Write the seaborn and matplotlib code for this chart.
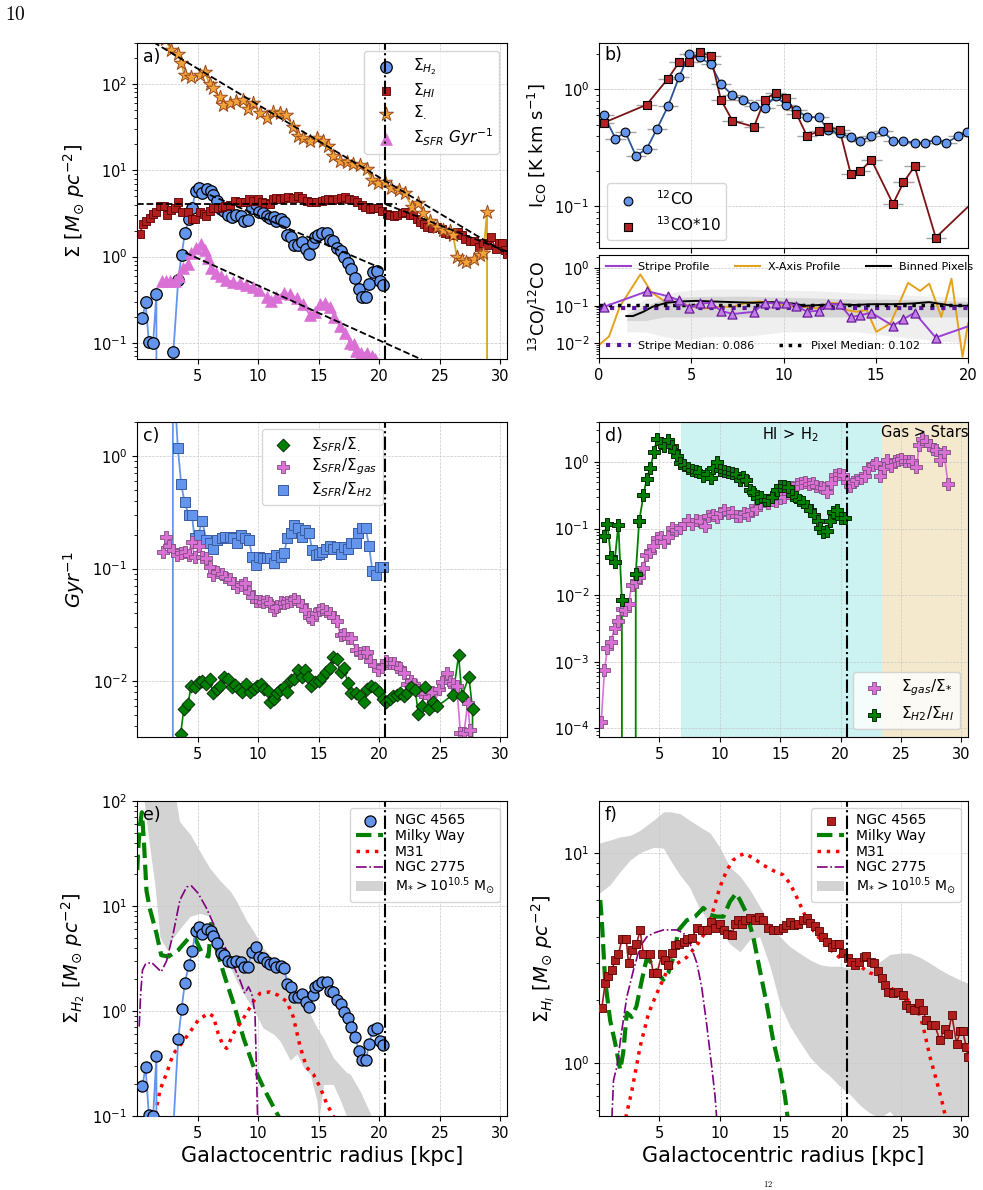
import matplotlib
matplotlib.use('Agg')
import seaborn as sns
import matplotlib.pyplot as plt
from matplotlib.lines import Line2D

plt.rcParams['xtick.labelsize'] = 10.5
plt.rcParams['ytick.labelsize'] = 10.5

# ---------------- values ----------------
r_trunc = 20.5

# molecular gas surface density (panels a, e)
r_h2 = [0.45, 0.7, 0.98, 1.33, 1.6, 1.85, 3.0, 3.4, 3.68, 3.95, 4.28, 4.56, 4.84, 5.1, 5.4, 5.75, 6.08, 6.3, 6.63, 6.9,
        7.2, 7.54, 7.87, 8.2, 8.55, 8.86, 9.13, 9.5, 9.8, 10.07, 10.4, 10.7, 11.0, 11.3, 11.5, 11.9, 12.17, 12.4, 12.7, 12.97,
        13.27, 13.6, 13.93, 14.2, 14.5, 14.7, 14.98, 15.3, 15.67, 15.94, 16.2, 16.55, 16.85, 17.13, 17.4, 17.68, 18.03, 18.3,
        18.56, 18.9, 19.14, 19.47, 19.8, 20.08, 20.35]
sig_h2 = [0.193, 0.295, 0.102, 0.1, 0.37, 0, 0.078, 0.54, 1.05, 1.86, 2.75, 3.7, 5.8, 6.3, 5.4, 6.1, 5.8, 5.2, 4.4, 3.55,
          3.4, 3.0, 2.9, 3.0, 2.95, 2.6, 2.65, 3.65, 4.1, 3.3, 3.2, 2.95, 2.8, 2.85, 2.6, 2.7, 2.55, 1.8, 1.68, 1.35,
          1.37, 1.46, 1.23, 1.08, 1.42, 1.7, 1.78, 1.87, 1.87, 1.56, 1.53, 1.26, 1.16, 0.98, 0.85, 0.71, 0.56, 0.42,
          0.34, 0.34, 0.48, 0.66, 0.69, 0.52, 0.47]

# atomic gas surface density (panels a, f)
r_hi = [0.23, 0.5, 0.78, 1.06, 1.33, 1.6, 1.9, 2.25, 2.44, 2.77, 3.1, 3.4, 3.68, 4.2, 4.5, 4.8, 5.2, 5.5, 5.7, 6.0,
        6.3, 6.65, 7.0, 7.26, 7.67, 8.1, 8.5, 8.9, 9.24, 9.6, 10.0, 10.35, 10.6, 11.0, 11.25, 11.5, 11.8, 12.1, 12.5, 12.9,
        13.27, 13.6, 14.0, 14.4, 14.8, 15.25, 15.5, 15.8, 16.1, 16.5, 16.85, 17.2, 17.5, 17.9, 18.2, 18.56, 18.84, 19.25,
        19.5, 19.9, 20.2, 20.6, 20.9, 21.2, 21.5, 21.9, 22.1, 22.55, 22.8, 23.1, 23.4, 23.66, 23.94, 24.35, 24.76, 25.2,
        25.45, 25.73, 26.1, 26.5, 26.8, 27.1, 27.5, 27.8, 28.2, 28.6, 28.9, 29.2, 29.6, 29.9, 30.1, 30.4, 30.55]
sig_hi = [1.83, 2.4, 2.6, 2.78, 3.1, 3.3, 3.9, 3.9, 3.0, 3.45, 3.7, 4.3, 3.3, 3.3, 2.7, 2.7, 3.3, 3.1, 2.95, 3.35,
          3.65, 3.7, 3.8, 3.9, 3.95, 4.4, 4.3, 4.3, 4.7, 4.4, 4.6, 4.3, 4.15, 4.1, 4.6, 4.8, 4.6, 4.8, 4.95, 4.8,
          5.0, 4.8, 4.4, 4.3, 4.3, 4.4, 4.55, 4.7, 4.55, 4.6, 4.8, 4.9, 4.65, 4.5, 4.25, 4.0, 3.8, 3.6,
          3.7, 3.7, 3.35, 3.16, 3.05, 2.95, 3.05, 3.2, 3.25, 3.05, 3.0, 2.74, 2.54, 2.36, 2.19, 2.16, 2.19, 2.11,
          1.9, 1.83, 1.79, 1.93, 1.79, 1.6, 1.52, 1.52, 1.29, 1.45, 1.38, 1.7, 1.24, 1.42, 1.42, 1.2, 1.07]

# stellar surface density
r_star = [2.35, 2.82, 3.37, 3.65, 3.92, 4.48, 5.17, 5.58, 6.0, 6.27, 6.82, 7.1, 7.65, 8.2, 8.75, 9.17, 9.58, 10.13, 10.7,
          11.24, 11.8, 12.34, 12.9, 13.3, 13.7, 14.27, 14.82, 15.37, 15.8, 16.2, 16.76, 17.3, 17.86, 18.4, 18.96, 19.4,
          19.9, 20.5, 21.0, 21.6, 22.1, 22.7, 23.2, 23.65, 24.2, 24.75, 25.3, 25.85, 26.1, 26.4, 26.8, 27.2, 27.8, 28.3,
          28.6, 28.9, 28.95]
sig_star = [330, 247, 226, 174, 126, 122, 126, 139, 100, 89, 71, 57, 60, 63, 65, 52, 60, 46, 40,
            48, 46, 44, 32, 25, 23.5, 22, 23.5, 22, 19, 14.5, 13, 12.6, 12, 11.6, 10.5, 7.7,
            7.1, 7.4, 6.2, 5.9, 5.4, 3.8, 4.2, 3.2, 2.6, 2.2, 2.05, 1.96, 1.78, 1.0, 0.91, 0.87, 0.95, 1.05,
            1.1, 3.3, 0]

# star formation rate surface density
r_sfr = [2.05, 2.4, 2.74, 3.1, 3.43, 3.8, 4.2, 4.48, 4.9, 5.3, 5.6, 5.86, 6.13, 6.55, 6.96, 7.37, 7.9, 8.5, 9.0, 9.6,
         10.1, 10.7, 11.1, 11.5, 12.1, 12.6, 13.2, 13.7, 14.27, 14.7, 15.1, 15.5, 15.9, 16.3, 16.75, 17.2, 17.6, 17.9,
         18.1, 18.5, 19.0, 19.4, 19.65]
sig_sfr = [0.52, 0.52, 0.52, 0.52, 0.6, 0.74, 0.83, 1.1, 1.25, 1.4, 1.2, 0.96, 0.73, 0.64, 0.6, 0.54, 0.51, 0.49, 0.47, 0.45,
           0.41, 0.34, 0.31, 0.34, 0.38, 0.37, 0.33, 0.28, 0.21, 0.23, 0.28, 0.29, 0.26, 0.2, 0.155, 0.13, 0.1, 0.096,
           0.08, 0.077, 0.077, 0.07, 0.065]

# exponential fits (end points of the dashed lines)
fit_star_r, fit_star_v = [0.0, 30.6], [398, 1.07]
fit_hi_r, fit_hi_v = [0.0, 21.5], [4.07, 4.07]
fit_hi_out_r, fit_hi_out_v = [20.5, 30.6], [4.07, 1.14]
fit_h2_r, fit_h2_v = [6.0, 20.5], [5.2, 0.70]
fit_sfr_r, fit_sfr_v = [4.0, 30.6], [1.11, 0.0227]

# panel b: CO intensities
r_12co = [0.27, 0.89, 1.43, 2.0, 2.58, 3.14, 3.74, 4.34, 4.88, 5.47, 6.05, 6.6, 7.23, 7.82, 8.4, 8.98, 9.57, 10.15, 10.7,
          11.27, 11.92, 12.4, 13.04, 13.64, 14.16, 14.76, 15.4, 15.93, 16.5, 17.1, 17.65, 18.25, 18.83, 19.46, 19.96]
i_12co = [0.6, 0.38, 0.43, 0.27, 0.31, 0.46, 0.72, 1.28, 2.0, 1.88, 1.64, 1.12, 0.89, 0.82, 0.72, 0.7, 0.88, 0.73, 0.67,
          0.58, 0.58, 0.45, 0.42, 0.39, 0.36, 0.4, 0.44, 0.36, 0.36, 0.35, 0.35, 0.37, 0.35, 0.4, 0.43]
r_13co = [0.27, 2.58, 3.74, 4.34, 4.88, 5.47, 6.05, 6.6, 7.23, 8.4, 8.98, 9.57, 10.15, 10.7, 11.27, 11.92, 12.4, 13.04,
          13.64, 14.16, 14.76, 15.93, 16.5, 17.1, 18.25, 20.55]
i_13co = [0.52, 0.74, 1.24, 1.71, 1.71, 2.09, 1.93, 0.82, 0.54, 0.48, 0.82, 0.94, 0.85, 0.62, 0.4, 0.44, 0.48, 0.45,
          0.19, 0.2, 0.25, 0.105, 0.16, 0.22, 0.054, 0.12]
co_xerr = 0.55
co12_yerr_frac = 0.05
co13_yerr_frac = 0.08

# panel b (lower): line ratio
r_stripe = [0.27, 2.62, 3.74, 4.34, 4.9, 5.46, 6.05, 6.6, 7.23, 8.4, 8.98, 9.57, 10.15, 10.7, 11.27, 11.92, 12.4, 13.04,
            13.64, 14.16, 14.76, 15.93, 16.5, 17.1, 18.25, 20.55]
ratio_stripe = [0.094, 0.245, 0.18, 0.14, 0.088, 0.115, 0.12, 0.074, 0.06, 0.069, 0.12, 0.115, 0.12, 0.1, 0.069, 0.074,
                0.11, 0.11, 0.049, 0.056, 0.065, 0.029, 0.044, 0.065, 0.014, 0.035]
r_xaxis = [0, 0.54, 1.12, 2.24, 2.84, 3.47, 4.0, 4.9, 5.8, 6.5, 7.26, 8.0, 8.7, 9.43, 10.15, 11.05, 11.78, 12.5, 13.04,
           13.4, 13.95, 14.5, 15.03, 15.8, 16.75, 17.4, 17.9, 18.55, 19.1, 19.7, 20.0]
ratio_xaxis = [0.0089, 0.015, 0.094, 0.69, 0.23, 0.14, 0.13, 0.1, 0.085, 0.094, 0.094, 0.12, 0.13, 0.115, 0.1, 0.094,
               0.085, 0.12, 0.115, 0.077, 0.069, 0.077, 0.02, 0.034, 0.41, 0.25, 0.39, 0.05, 0.53, 0.0043, 0.034]
r_binned = [1.48, 1.84, 2.4, 2.9, 3.65, 4.37, 5.28, 6.18, 7.26, 8.35, 9.43, 10.5, 11.2, 12.0, 13.0, 13.8, 14.85, 15.9,
            17.0, 17.9, 18.6, 19.2, 20.0]
ratio_binned = [0.053, 0.053, 0.069, 0.094, 0.12, 0.13, 0.135, 0.13, 0.125, 0.12, 0.125, 0.115, 0.1, 0.105, 0.11, 0.105,
                0.11, 0.11, 0.115, 0.125, 0.11, 0.1, 0.1]
r_cloud = [1.5, 2.5, 3.5, 4.5, 6, 8, 10, 12, 14, 16, 18, 20]
cloud_out_lo = [0.02, 0.02, 0.015, 0.012, 0.015, 0.015, 0.02, 0.02, 0.02, 0.015, 0.012, 0.01]
cloud_out_hi = [0.08, 0.15, 0.2, 0.25, 0.28, 0.28, 0.26, 0.25, 0.22, 0.2, 0.18, 0.17]
cloud_in_lo = [0.04, 0.04, 0.05, 0.05, 0.05, 0.05, 0.05, 0.05, 0.05, 0.05, 0.05, 0.05]
cloud_in_hi = [0.06, 0.1, 0.15, 0.17, 0.18, 0.18, 0.17, 0.16, 0.15, 0.15, 0.14, 0.13]
stripe_median = 0.086
pixel_median = 0.102

# panel c: depletion rates
c_r_h2 = [2.7, 2.96, 3.37, 3.65, 3.92, 4.25, 4.53, 4.75, 5.08, 5.36, 5.72, 6.0, 6.3, 6.6, 7.0, 7.3, 7.65, 7.9, 8.25, 8.6,
          8.95, 9.25, 9.5, 9.8, 10.07, 10.4, 10.7, 10.96, 11.3, 11.5, 11.87, 12.15, 12.4, 12.7, 13.0, 13.3, 13.58, 13.9,
          14.2, 14.47, 14.74, 15.0, 15.3, 15.57, 15.93, 16.2, 16.48, 16.8, 17.1, 17.4, 17.7, 18.05, 18.27, 18.55, 18.88,
          19.15, 19.43, 19.73, 20.07, 20.34]
c_sfr_h2 = [0, 6.7, 1.17, 0.56, 0.39, 0.3, 0.3, 0.185, 0.2, 0.266, 0.18, 0.17, 0.15, 0.18, 0.185, 0.19, 0.19, 0.185, 0.168,
            0.2, 0.185, 0.18, 0.127, 0.107, 0.127, 0.123, 0.123, 0.123, 0.111, 0.132, 0.127, 0.138, 0.185, 0.205, 0.244,
            0.228, 0.19, 0.22, 0.205, 0.146, 0.132, 0.134, 0.14, 0.15, 0.158, 0.15, 0.155, 0.134, 0.155, 0.15, 0.168,
            0.17, 0.205, 0.228, 0.228, 0.16, 0.096, 0.0875, 0.103, 0.103]
c_r_gas = [2.13, 2.4, 2.68, 2.96, 3.3, 3.65, 3.92, 4.25, 4.5, 4.75, 5.1, 5.36, 5.72, 6.0, 6.3, 6.6, 7.0, 7.3, 7.65, 7.9,
           8.25, 8.6, 8.95, 9.25, 9.5, 9.8, 10.13, 10.4, 10.7, 10.96, 11.3, 11.5, 11.87, 12.15, 12.4, 12.7, 13.0, 13.3,
           13.58, 13.9, 14.2, 14.47, 14.74, 15.0, 15.3, 15.57, 15.93, 16.2, 16.48, 16.8, 17.1, 17.4, 17.7, 18.05, 18.4,
           18.7, 18.96, 19.24, 19.6, 19.93, 20.2, 20.56, 20.9, 21.2, 21.45, 21.7, 22.05, 22.33, 22.6, 22.9, 23.16, 23.43,
           23.74, 24.07, 24.34, 24.57, 24.9, 25.2, 25.6, 25.86, 26.1, 26.4, 26.7, 27.0, 27.3, 27.5, 27.7]
c_sfr_gas = [0.141, 0.19, 0.16, 0.146, 0.132, 0.137, 0.141, 0.132, 0.173, 0.127, 0.157, 0.127, 0.123, 0.104, 0.0875,
             0.094, 0.09, 0.085, 0.08, 0.074, 0.069, 0.071, 0.074, 0.062, 0.056, 0.052, 0.051, 0.05, 0.051, 0.049,
             0.043, 0.046, 0.05, 0.049, 0.05, 0.052, 0.054, 0.051, 0.047, 0.043, 0.037, 0.036, 0.04, 0.043, 0.044,
             0.042, 0.04, 0.037, 0.034, 0.0257, 0.026, 0.024, 0.024, 0.019, 0.0177, 0.018, 0.018, 0.015, 0.0139,
             0.0125, 0.0134, 0.015, 0.0144, 0.0144, 0.0134, 0.013, 0.0118, 0.0095, 0.01, 0.0095, 0.0083, 0.008,
             0.0078, 0.0072, 0.008, 0.0061, 0.0086, 0.0099, 0.0118, 0.0099, 0.0095, 0.009, 0.0035, 0.0035, 0.0064,
             0.0037, 0]
c_r_star = [3.6, 3.87, 4.2, 4.48, 4.75, 5.08, 5.36, 5.72, 6.0, 6.27, 6.6, 6.88, 7.15, 7.5, 7.85, 8.1, 8.4, 8.67, 9.03,
            9.3, 9.63, 9.9, 10.2, 10.46, 10.8, 11.0, 11.3, 11.57, 11.84, 12.12, 12.4, 12.75, 13.0, 13.3, 13.58, 13.86,
            14.13, 14.4, 14.7, 15.0, 15.3, 15.57, 15.93, 16.2, 16.48, 16.8, 17.1, 17.4, 17.7, 18.05, 18.4, 18.7, 18.96,
            19.3, 19.65, 20.0, 20.3, 20.56, 20.9, 21.17, 21.45, 21.7, 22.05, 22.33, 22.6, 22.96, 23.24, 23.5, 23.8,
            24.12, 24.4, 24.8, 26.1, 26.55, 26.83, 27.4, 27.7, 27.85]
c_sfr_star = [0.0034, 0.0057, 0.0063, 0.0091, 0.0088, 0.0098, 0.0101, 0.0095, 0.0104, 0.0078, 0.0086, 0.0091, 0.0108,
              0.0104, 0.0089, 0.0092, 0.0086, 0.008, 0.0095, 0.008, 0.0086, 0.009, 0.0095, 0.0086, 0.0082, 0.0066,
              0.007, 0.0078, 0.0083, 0.0089, 0.008, 0.0102, 0.0104, 0.0125, 0.0108, 0.0125, 0.011, 0.009, 0.0098,
              0.0101, 0.0108, 0.012, 0.013, 0.0163, 0.0157, 0.012, 0.013, 0.0097, 0.0079, 0.0078, 0.0074, 0.0066,
              0.0086, 0.009, 0.0087, 0.0081, 0.0069, 0.0066, 0.0069, 0.0074, 0.0076, 0.0078, 0.0074, 0.0078, 0.0089,
              0.0084, 0.0051, 0.006, 0.0089, 0.0057, 0.0066, 0.006, 0.0076, 0.017, 0.0074, 0.011, 0.0057, 0]

# panel d: ratios
d_r_gas = [0.18, 0.45, 0.7, 0.97, 1.28, 1.6, 1.89, 2.16, 2.44, 2.71, 3.04, 3.32, 3.62, 3.9, 4.23, 4.5, 4.83, 5.1, 5.38,
           5.69, 6.02, 6.38, 6.71, 7.04, 7.4, 7.67, 8.0, 8.36, 8.78, 9.05, 9.4, 9.74, 10.0, 10.35, 10.7, 11.0, 11.3,
           11.7, 12.0, 12.35, 12.6, 13.0, 13.3, 13.7, 14.0, 14.35, 14.65, 15.0, 15.3, 15.67, 16.0, 16.36, 16.7, 17.05,
           17.4, 17.73, 18.0, 18.34, 18.64, 18.9, 19.2, 19.5, 19.88, 20.16, 20.5, 20.76, 21.04, 21.3, 21.65, 22.0,
           22.28, 22.64, 22.97, 23.3, 23.58, 23.85, 24.13, 24.48, 24.76, 25.0, 25.37, 25.67, 25.95, 26.28, 26.5,
           26.77, 27.1, 27.38, 27.65, 27.93, 28.2, 28.54, 28.9]
d_gas_star = [1.23e-4, 7.4e-4, 1.6e-3, 1.95e-3, 3.2e-3, 4.1e-3, 6.3e-3, 6.0e-3, 7.4e-3, 0.0143, 0.0155, 0.0187, 0.0255,
              0.04, 0.045, 0.054, 0.072, 0.074, 0.062, 0.076, 0.102, 0.096, 0.102, 0.118, 0.136, 0.118, 0.136, 0.128,
              0.11, 0.152, 0.16, 0.149, 0.171, 0.19, 0.171, 0.18, 0.156, 0.156, 0.171, 0.16, 0.19, 0.2, 0.24, 0.256,
              0.24, 0.27, 0.256, 0.29, 0.3, 0.34, 0.42, 0.46, 0.48, 0.51, 0.46, 0.49, 0.44, 0.42, 0.41, 0.36, 0.49,
              0.64, 0.67, 0.64, 0.51, 0.43, 0.51, 0.54, 0.57, 0.61, 0.81, 0.91, 0.97, 0.62, 0.81, 1.06, 0.86, 1.02,
              1.08, 1.1, 1.02, 1.02, 1.02, 0.83, 1.78, 2.2, 2.1, 1.82, 1.57, 1.53, 1.06, 1.4, 0.47]
d_r_mol = [0.37, 0.7, 0.97, 1.28, 1.6, 1.89, 2.3, 3.04, 3.32, 3.68, 3.95, 4.23, 4.56, 4.78, 5.1, 5.38, 5.69, 6.02, 6.2,
           6.43, 6.71, 7.04, 7.34, 7.67, 8.0, 8.28, 8.64, 8.97, 9.25, 9.47, 9.8, 10.0, 10.37, 10.7, 11.04, 11.34, 11.67,
           11.95, 12.2, 12.5, 12.77, 13.05, 13.38, 13.7, 14.0, 14.35, 14.7, 15.0, 15.34, 15.67, 15.95, 16.27, 16.58,
           16.9, 17.24, 17.5, 17.8, 18.1, 18.3, 18.56, 18.84, 19.1, 19.4, 19.7, 20.0, 20.35]
d_h2_hi = [0.078, 0.118, 0.038, 0.031, 0.114, 0.0085, 0, 0.021, 0.128, 0.32, 0.56, 0.81, 1.41, 2.2, 1.93, 1.76, 2.17,
           1.72, 1.45, 1.22, 0.97, 0.91, 0.81, 0.77, 0.74, 0.7, 0.61, 0.65, 0.57, 0.81, 0.99, 0.77, 0.74, 0.72, 0.68,
           0.65, 0.54, 0.6, 0.54, 0.38, 0.36, 0.29, 0.3, 0.27, 0.27, 0.3, 0.38, 0.43, 0.44, 0.42, 0.32, 0.3, 0.27,
           0.25, 0.22, 0.19, 0.16, 0.128, 0.102, 0.09, 0.093, 0.128, 0.18, 0.19, 0.144, 0.144]
hi_dominates_from = 6.8
gas_dominates_from = 23.45

# panel e: comparison galaxies (H2)
mw_r_h2 = [0.02, 0.1, 0.25, 0.4, 0.55, 0.78, 1.05, 1.6, 2.0, 2.6, 3.4, 4.3, 4.8, 5.4, 5.9, 6.15, 6.5, 7.2, 8.0, 8.8,
           9.6, 10.5, 11.3, 12.0]
mw_h2 = [22, 35, 60, 78, 45, 14, 9.5, 5.5, 3.4, 3.3, 3.8, 5.0, 4.9, 3.5, 3.3, 7.3, 4.1, 2.2, 1.15, 0.55,
         0.3, 0.18, 0.12, 0.085]
m31_r_h2 = [1.2, 1.47, 1.9, 2.44, 2.99, 3.68, 4.37, 5.05, 5.88, 6.3, 6.7, 7.1, 7.4, 7.95, 8.5, 9.05, 9.6, 10.15, 10.98,
            11.67, 12.36, 12.9, 13.46, 14.0, 14.56, 15.1, 15.67, 16.2, 16.6]
m31_h2 = [0.07, 0.1, 0.177, 0.255, 0.39, 0.49, 0.63, 0.82, 0.95, 0.89, 0.61, 0.47, 0.44, 0.61, 0.76, 0.95, 1.23, 1.47,
          1.52, 1.41, 1.23, 0.88, 0.46, 0.29, 0.25, 0.19, 0.13, 0.1, 0.07]
n2775_r_h2 = [0.18, 0.3, 0.45, 0.7, 1.2, 2.0, 2.44, 2.99, 3.54, 4.1, 4.5, 5.05, 5.74, 6.3, 6.85, 7.4, 7.95, 8.5, 8.9,
              9.2, 9.47, 9.74, 9.88, 9.96]
n2775_h2 = [0.71, 1.47, 2.45, 2.8, 2.9, 2.36, 3.0, 5.5, 11.4, 15.2, 15.5, 13.2, 9.5, 6.8, 4.9, 3.8, 2.73, 1.96, 1.47,
            1.7, 1.47, 0.95, 0.22, 0.09]
band_e_r = [0.4, 1.0, 1.5, 1.9, 2.5, 3.0, 3.5, 4.4, 5.2, 6.0, 6.85, 7.7, 8.2, 9.06, 9.6, 10.4, 11.3, 11.8, 12.65, 13.2,
            13.75, 14.3, 14.85, 15.0, 15.4, 16.2, 16.8, 17.3, 17.6, 18.45, 19.27, 19.6]
band_e_hi = [150, 150, 150, 150, 150, 150, 64, 48, 33, 23, 17.5, 13.8, 11.2, 7.2, 5.8, 4.0, 3.1, 2.7, 1.96, 1.6,
             1.2, 0.93, 0.7, 0.65, 0.55, 0.36, 0.3, 0.26, 0.25, 0.17, 0.105, 0.08]
band_e_lo = [150, 40, 15, 5, 3.8, 5, 6, 8, 8.5, 8, 4.5, 2.6, 1.95, 1.3, 1.05, 0.69, 0.6, 0.52, 0.34, 0.39,
             0.29, 0.25, 0.14, 0.09, 0.2, 0.2, 0.14, 0.1, 0.08, 0.08, 0.08, 0.08]

# panel f: comparison galaxies (HI)
mw_r_hi = [0.1, 0.23, 0.5, 0.92, 1.33, 1.75, 2.0, 2.3, 2.7, 3.1, 3.55, 3.95, 4.37, 4.78, 5.33, 5.74, 6.16, 6.57, 7.26,
           7.95, 8.64, 9.2, 9.74, 10.3, 10.84, 11.34, 11.67, 12.2, 12.77, 13.3, 13.87, 14.4, 14.98, 15.4, 15.8]
mw_hi = [6.0, 4.8, 2.5, 1.6, 1.25, 0.93, 1.12, 1.74, 1.66, 1.87, 2.5, 3.16, 3.0, 2.7, 2.5, 2.7, 3.2, 4.3, 4.8,
         5.0, 5.5, 5.1, 5.0, 5.0, 5.9, 6.45, 6.0, 5.2, 4.0, 2.8, 1.93, 1.3, 0.93, 0.69, 0.45]
m31_r_hi = [2.0, 2.24, 2.7, 3.4, 4.1, 4.78, 5.6, 6.43, 7.26, 8.1, 8.9, 9.47, 10.0, 10.57, 11.1, 11.67, 12.08, 12.77,
            13.6, 14.4, 15.25, 15.8, 16.36, 16.9, 17.46, 18.3, 19.1, 19.9, 20.77, 21.6, 22.4, 23.25, 24.07, 24.9, 25.73,
            26.4, 26.83, 27.4, 27.93, 28.5, 29.0]
m31_hi = [0.45, 0.56, 0.73, 1.2, 1.73, 2.15, 2.73, 2.98, 3.2, 3.65, 4.3, 5.4, 6.9, 8.3, 9.3, 9.8, 10.0, 9.5,
          8.8, 8.3, 7.9, 7.2, 6.2, 5.3, 4.5, 3.9, 3.5, 3.2, 3.05, 2.9, 2.7, 2.6, 2.3, 2.15, 1.97,
          1.79, 1.5, 1.07, 0.83, 0.62, 0.45]
n2775_r_hi = [1.0, 1.2, 1.47, 1.89, 2.3, 2.85, 3.4, 3.95, 4.5, 5.33, 6.43, 7.0, 7.53, 8.1, 8.5, 8.9, 9.33, 9.6, 9.85]
n2775_hi = [0.45, 0.83, 0.96, 1.44, 2.07, 2.78, 3.6, 4.0, 4.17, 4.32, 4.32, 4.17, 3.72, 3.0, 2.3, 1.55, 0.96, 0.7, 0.45]
band_f_r = [0, 0.92, 1.75, 2.57, 3.4, 4.5, 5.33, 5.9, 6.7, 7.5, 8.36, 9.2, 10.0, 10.84, 11.67, 12.5, 13.3, 14.15, 15.0,
            15.8, 16.6, 17.5, 18.3, 19.1, 19.9, 20.77, 21.6, 22.4, 23.25, 24.07, 24.9, 25.7, 26.55, 27.4, 28.2, 29.0,
            29.86, 30.6]
band_f_hi = [11.2, 11.6, 12.0, 12.2, 12.9, 14.4, 15.8, 15.8, 15.5, 14.4, 13.4, 12.5, 10.7, 8.6, 7.8, 6.7, 5.6, 4.6, 4.0,
             3.6, 3.35, 3.1, 2.95, 2.9, 2.9, 2.85, 2.85, 2.85, 3.05, 3.3, 3.35, 3.35, 3.2, 3.0, 2.8, 2.64, 2.5, 2.4]
band_f_lo = [6.45, 7.1, 8.2, 9.3, 10.1, 10.7, 10.6, 9.3, 7.9, 6.9, 5.4, 4.7, 4.3, 3.7, 3.4, 3.9, 4.0, 2.9, 1.9,
             1.5, 1.27, 1.06, 0.95, 0.87, 0.78, 0.71, 0.63, 0.58, 0.55, 0.59, 0.52, 0.4, 0.4, 0.4, 0.4, 0.4, 0.4, 0.4]

# ---------------- drawing ----------------
C_H2 = 'cornflowerblue'
C_HI_FACE, C_HI_EDGE, C_HI_LINE = '#b01e1e', '#5a0000', '#a01818'
C_STAR_FACE, C_STAR_EDGE, C_STAR_LINE = '#f2a43a', '#9c4a1e', 'goldenrod'
C_PINK = 'orchid'
C_GREEN = 'green'

fig = plt.figure(figsize=(9.83, 11.9), dpi=100)
ax_a = fig.add_axes([0.1394, 0.6983, 0.3764, 0.2656])
ax_b = fig.add_axes([0.6094, 0.7916, 0.3754, 0.1723])
ax_r = fig.add_axes([0.6094, 0.6992, 0.3754, 0.0866])
ax_c = fig.add_axes([0.1394, 0.3807, 0.3764, 0.2647])
ax_d = fig.add_axes([0.6094, 0.3807, 0.3754, 0.2647])
ax_e = fig.add_axes([0.1394, 0.0622, 0.3764, 0.2647])
ax_f = fig.add_axes([0.6094, 0.0622, 0.3754, 0.2647])


def profile(ax, x, y, line, face, edge, marker, ms, label, lw=1.3, mew=0.8, z=2):
    sns.lineplot(x=x, y=y, ax=ax, color=line, lw=lw, sort=False, estimator=None, zorder=z)
    sns.scatterplot(x=x, y=y, ax=ax, marker=marker, s=ms ** 2, color=face, edgecolor=edge,
                    linewidth=mew, label=label, zorder=z + 0.1)


def ordered_legend(ax, order, **kw):
    h, l = ax.get_legend_handles_labels()
    d = dict(zip(l, h))
    return ax.legend([d[k] for k in order], order, **kw)


def finish(ax, ylim, tag, xlim=(0, 30.55), xticks=(5, 10, 15, 20, 25, 30), vline=True):
    ax.set_yscale('log')
    ax.set_xlim(*xlim)
    ax.set_ylim(*ylim)
    ax.set_xticks(list(xticks))
    ax.grid(True, which='major', ls='--', lw=0.5, color='#c8c8c8')
    ax.set_xlabel('')
    ax.set_ylabel('')
    if vline:
        ax.axvline(r_trunc, color='k', ls='-.', lw=1.5, zorder=6)
    if tag:
        ax.text(0.015, 0.985, tag, transform=ax.transAxes, ha='left', va='top', fontsize=12.5, zorder=7)


# ---- a) ----
lab_h2, lab_hi, lab_st, lab_sfr = r'$\Sigma_{H_2}$', r'$\Sigma_{HI}$', r'$\Sigma_{.}$', r'$\Sigma_{SFR}\ Gyr^{-1}$'
profile(ax_a, r_h2, sig_h2, C_H2, C_H2, 'k', 'o', 8.3, lab_h2, mew=0.9)
profile(ax_a, r_hi, sig_hi, C_HI_LINE, C_HI_FACE, C_HI_EDGE, 's', 6.2, lab_hi, mew=0.6)
profile(ax_a, r_star, sig_star, C_STAR_LINE, C_STAR_FACE, C_STAR_EDGE, '*', 10.5, lab_st, mew=0.7)
profile(ax_a, r_sfr, sig_sfr, C_PINK, C_PINK, C_PINK, '^', 8.5, lab_sfr, mew=0.5)
for fr, fv in [(fit_star_r, fit_star_v), (fit_hi_r, fit_hi_v), (fit_hi_out_r, fit_hi_out_v),
               (fit_h2_r, fit_h2_v), (fit_sfr_r, fit_sfr_v)]:
    sns.lineplot(x=fr, y=fv, ax=ax_a, color='k', ls='--', lw=1.3, zorder=5, sort=False, estimator=None)
finish(ax_a, (0.065, 300), 'a)')
ax_a.set_ylabel(r'$\Sigma\ [M_{\odot}\ pc^{-2}]$', fontsize=14)
ordered_legend(ax_a, [lab_h2, lab_hi, lab_st, lab_sfr], loc='upper right', fontsize=11, labelspacing=0.25)

# ---- b) upper ----
ax_b.errorbar(r_12co, i_12co, xerr=co_xerr, yerr=[v * co12_yerr_frac for v in i_12co], fmt='none',
              ecolor='#8c8c8c', elinewidth=1.0, alpha=0.8, zorder=1)
ax_b.errorbar(r_13co, i_13co, xerr=co_xerr, yerr=[v * co13_yerr_frac for v in i_13co], fmt='none',
              ecolor='#8c8c8c', elinewidth=1.0, alpha=0.8, zorder=1)
lab12, lab13 = r'$^{12}$CO', r'$^{13}$CO*10'
profile(ax_b, r_12co, i_12co, '#2c5496', C_H2, 'k', 'o', 6.3, lab12, lw=1.3, z=3)
profile(ax_b, r_13co, i_13co, '#7a1414', '#b22222', 'k', 's', 6.0, lab13, lw=1.3, z=3)
finish(ax_b, (0.044, 2.5), 'b)', xlim=(0, 20), xticks=(5, 10, 15), vline=False)
ax_b.set_xticklabels([])
ax_b.set_ylabel(r'I$_{\rm CO}$ [K km s$^{-1}$]', fontsize=13)
ordered_legend(ax_b, [lab12, lab13], loc='lower left', fontsize=11, labelspacing=0.5)

# ---- b) lower: line ratio ----
ax_r.fill_between(r_cloud, cloud_out_lo, cloud_out_hi, color='gray', alpha=0.12, lw=0, zorder=0.5)
ax_r.fill_between(r_cloud, cloud_in_lo, cloud_in_hi, color='gray', alpha=0.22, lw=0, zorder=0.6)
c_stripe, c_xaxis = '#9b3fd6', '#e3a21a'
sns.lineplot(x=r_xaxis, y=ratio_xaxis, ax=ax_r, color=c_xaxis, lw=1.4, sort=False, estimator=None, zorder=2)
sns.lineplot(x=r_binned, y=ratio_binned, ax=ax_r, color='k', lw=1.4, sort=False, estimator=None, zorder=2.2)
sns.lineplot(x=r_stripe, y=ratio_stripe, ax=ax_r, color=c_stripe, lw=1.4, sort=False, estimator=None, zorder=3)
sns.scatterplot(x=r_stripe, y=ratio_stripe, ax=ax_r, marker='^', s=6.5 ** 2, color='#c27fe6', edgecolor='#6a1b9a',
                linewidth=0.9, zorder=3.1)
ax_r.axhline(stripe_median, color='#5b169e', ls=':', lw=3, zorder=2.5)
ax_r.axhline(pixel_median, color='k', ls=':', lw=2.5, zorder=2.5)
finish(ax_r, (0.004, 2.3), None, xlim=(0, 20), xticks=(0, 5, 10, 15, 20), vline=False)
ax_r.set_ylabel(r'$^{13}$CO/$^{12}$CO', fontsize=12.5)
leg1 = ax_r.legend([Line2D([], [], color=c_stripe, lw=1.5), Line2D([], [], color=c_xaxis, lw=1.5),
                    Line2D([], [], color='k', lw=1.5)],
                   ['Stripe Profile', 'X-Axis Profile', 'Binned Pixels'], loc='upper left', ncol=3,
                   frameon=False, fontsize=8, bbox_to_anchor=(0.0, 1.0), borderaxespad=0.2,
                   columnspacing=2.3, handlelength=2.25, handletextpad=0.7)
ax_r.add_artist(leg1)
ax_r.legend([Line2D([], [], color='#5b169e', lw=3, ls=':'), Line2D([], [], color='k', lw=2.5, ls=':')],
            ['Stripe Median: %.3f' % stripe_median, 'Pixel Median: %.3f' % pixel_median], loc='lower left',
            ncol=2, frameon=False, fontsize=8, bbox_to_anchor=(0.0, 0.0), borderaxespad=0.2,
            columnspacing=2.15, handlelength=2.25, handletextpad=0.7)

# ---- c) ----
lc1, lc2, lc3 = r'$\Sigma_{SFR}/\Sigma_{.}$', r'$\Sigma_{SFR}/\Sigma_{gas}$', r'$\Sigma_{SFR}/\Sigma_{H2}$'
profile(ax_c, c_r_h2, c_sfr_h2, C_H2, C_H2, '#3b5ba0', 's', 7.5, lc3, lw=1.3, mew=0.7)
profile(ax_c, c_r_gas, c_sfr_gas, C_PINK, C_PINK, '#7d4f7d', 'P', 8.2, lc2, lw=1.2, mew=0.6)
profile(ax_c, c_r_star, c_sfr_star, C_GREEN, C_GREEN, '#0b2e0b', 'D', 6.5, lc1, lw=1.2, mew=0.7)
finish(ax_c, (0.0032, 2.0), 'c)')
ax_c.set_ylabel(r'$Gyr^{-1}$', fontsize=14)
ordered_legend(ax_c, [lc1, lc2, lc3], loc='upper left', bbox_to_anchor=(0.338, 0.978), borderaxespad=0,
               fontsize=11, labelspacing=0.2)

# ---- d) ----
ax_d.axvspan(hi_dominates_from, gas_dominates_from, color='#ccf2f2', lw=0, zorder=0)
ax_d.axvspan(gas_dominates_from, 30.55, color='#f5e9cd', lw=0, zorder=0)
ld1, ld2 = r'$\Sigma_{gas}/\Sigma_{*}$', r'$\Sigma_{H2}/\Sigma_{HI}$'
profile(ax_d, d_r_gas, d_gas_star, C_PINK, C_PINK, '#7d4f7d', 'P', 9.0, ld1, lw=1.2, mew=0.6)
profile(ax_d, d_r_mol, d_h2_hi, C_GREEN, C_GREEN, '#062806', 'P', 9.0, ld2, lw=1.3, mew=0.7)
finish(ax_d, (7.4e-5, 4.0), 'd)')
ax_d.text((hi_dominates_from + gas_dominates_from) / 2 + 0.7, 0.99, r'HI$\,>\,$H$_2$',
          transform=ax_d.get_xaxis_transform(), ha='center', va='top', fontsize=10.5)
ax_d.text(gas_dominates_from - 0.1, 0.99, 'Gas > Stars', transform=ax_d.get_xaxis_transform(),
          ha='left', va='top', fontsize=10.5)
ordered_legend(ax_d, [ld1, ld2], loc='lower right', fontsize=11, labelspacing=0.4)

# ---- e) & f) ----
band_lab = r'M$_{*}>10^{10.5}$ M$_{\odot}$'
names = ['NGC 4565', 'Milky Way', 'M31', 'NGC 2775', band_lab]

ax_e.fill_between(band_e_r, band_e_lo, band_e_hi, color='#d3d3d3', lw=0, label=band_lab, zorder=0.8)
sns.lineplot(x=mw_r_h2, y=mw_h2, ax=ax_e, color='green', ls='--', lw=3, label='Milky Way', sort=False,
             estimator=None, zorder=2)
sns.lineplot(x=m31_r_h2, y=m31_h2, ax=ax_e, color='red', ls=':', lw=2.5, label='M31', sort=False,
             estimator=None, zorder=2)
sns.lineplot(x=n2775_r_h2, y=n2775_h2, ax=ax_e, color='purple', ls='-.', lw=1.2, label='NGC 2775', sort=False,
             estimator=None, zorder=2)
profile(ax_e, r_h2, sig_h2, C_H2, C_H2, 'k', 'o', 8.0, 'NGC 4565', lw=1.3, mew=0.9, z=3)
finish(ax_e, (0.1, 100), 'e)')
ax_e.set_ylabel(r'$\Sigma_{H_2}\ [M_{\odot}\ pc^{-2}]$', fontsize=14)
ax_e.set_xlabel('Galactocentric radius [kpc]', fontsize=15)
ordered_legend(ax_e, names, loc='upper right', fontsize=10, labelspacing=0.12)

ax_f.fill_between(band_f_r, band_f_lo, band_f_hi, color='#d3d3d3', lw=0, label=band_lab, zorder=0.8)
sns.lineplot(x=mw_r_hi, y=mw_hi, ax=ax_f, color='green', ls='--', lw=3, label='Milky Way', sort=False,
             estimator=None, zorder=2)
sns.lineplot(x=m31_r_hi, y=m31_hi, ax=ax_f, color='red', ls=':', lw=2.5, label='M31', sort=False,
             estimator=None, zorder=2)
sns.lineplot(x=n2775_r_hi, y=n2775_hi, ax=ax_f, color='purple', ls='-.', lw=1.2, label='NGC 2775', sort=False,
             estimator=None, zorder=2)
profile(ax_f, r_hi, sig_hi, C_HI_LINE, C_HI_FACE, C_HI_EDGE, 's', 6.3, 'NGC 4565', lw=1.2, mew=0.6, z=3)
finish(ax_f, (0.56, 17.8), 'f)')
ax_f.set_ylabel(r'$\Sigma_{H_I}\ [M_{\odot}\ pc^{-2}]$', fontsize=14)
ax_f.set_xlabel('Galactocentric radius [kpc]', fontsize=15)
ordered_legend(ax_f, names, loc='upper right', fontsize=10, labelspacing=0.12)

# page furniture
fig.text(0.005, 0.9878, r'$\mathrm{10}$', fontsize=14, math_fontfamily='cm', ha='left', va='center')
fig.text(0.776, 0.0005, r'$\mathrm{12}$', fontsize=6, math_fontfamily='cm', ha='left', va='bottom')

fig.savefig('out.png', dpi=100)
